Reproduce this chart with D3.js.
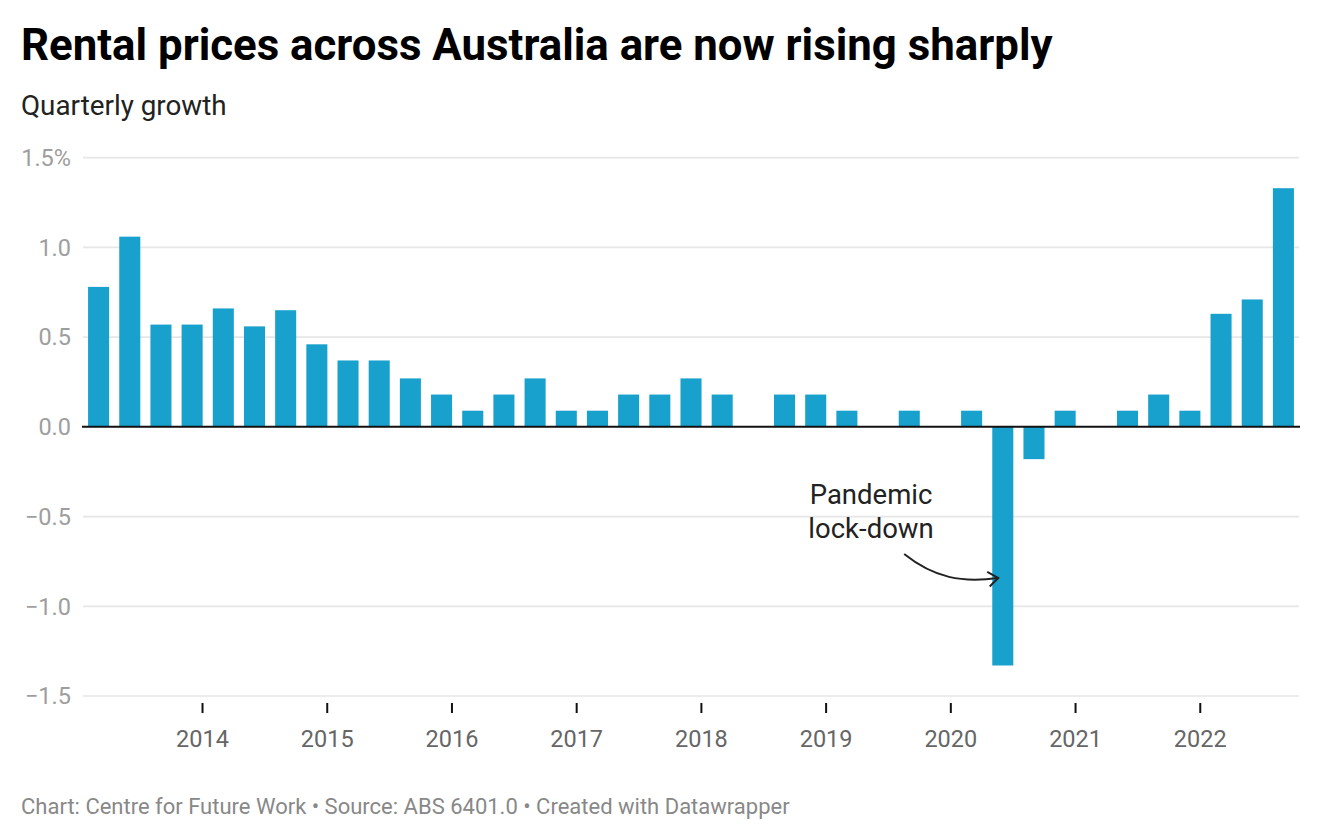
<!DOCTYPE html>
<html>
<head>
<meta charset="utf-8">
<script src="https://cdn.jsdelivr.net/npm/d3@7"></script>
<style>
  html, body { margin: 0; padding: 0; background: #fff; }
  svg { display: block; font-family: Roboto, "Noto Sans", sans-serif; }
</style>
</head>
<body>
<svg id="chart" width="1320" height="840"></svg>
<script>
// ---- Data ----
const quarters = [
  "2013-Q1","2013-Q2","2013-Q3","2013-Q4",
  "2014-Q1","2014-Q2","2014-Q3","2014-Q4",
  "2015-Q1","2015-Q2","2015-Q3","2015-Q4",
  "2016-Q1","2016-Q2","2016-Q3","2016-Q4",
  "2017-Q1","2017-Q2","2017-Q3","2017-Q4",
  "2018-Q1","2018-Q2","2018-Q3","2018-Q4",
  "2019-Q1","2019-Q2","2019-Q3","2019-Q4",
  "2020-Q1","2020-Q2","2020-Q3","2020-Q4",
  "2021-Q1","2021-Q2","2021-Q3","2021-Q4",
  "2022-Q1","2022-Q2","2022-Q3"
];
const growth = [
  0.78, 1.06, 0.57, 0.57,
  0.66, 0.56, 0.65, 0.46,
  0.37, 0.37, 0.27, 0.18,
  0.09, 0.18, 0.27, 0.09,
  0.09, 0.18, 0.18, 0.27,
  0.18, 0.00, 0.18, 0.18,
  0.09, 0.00, 0.09, 0.00,
  0.09, -1.33, -0.18, 0.09,
  0.00, 0.09, 0.18, 0.09,
  0.63, 0.71, 1.33
];
const yTicks = [-1.5, -1.0, -0.5, 0, 0.5, 1.0, 1.5];
const yTickLabels = ["\u22121.5", "\u22121.0", "\u22120.5", "0.0", "0.5", "1.0", "1.5%"];
const xTickYears = [2014, 2015, 2016, 2017, 2018, 2019, 2020, 2021, 2022];

const titleText = "Rental prices across Australia are now rising sharply";
const subtitleText = "Quarterly growth";
const footerText = "Chart: Centre for Future Work \u2022 Source: ABS 6401.0 \u2022 Created with Datawrapper";
const annotationLines = ["Pandemic", "lock-down"];

// ---- Helpers ----
// quarter date placed at the first day of the quarter's last month (Datawrapper-style)
function qToYear(q) {
  const [y, qq] = q.split("-Q").map(Number);
  return y + (3 * qq - 1) / 12;
}
const data = quarters.map((q, i) => ({ q, t: qToYear(q), v: growth[i] }));

// ---- Layout ----
const svg = d3.select("#chart");
const plot = { left: 83, right: 1299, top: 157.7, bottom: 696 };

const tFirst = d3.min(data, d => d.t), tLast = d3.max(data, d => d.t);
const pad = 0.125;
const x = d3.scaleLinear().domain([tFirst - pad, tLast + pad]).range([plot.left, plot.right]);
const y = d3.scaleLinear().domain([-1.5, 1.5]).range([plot.bottom, plot.top]);
const step = x(0.25) - x(0);
const barW = step * 0.675;

// Title / subtitle
svg.append("text").attr("x", 21).attr("y", 60)
  .attr("font-size", 43.8).attr("font-weight", 700).attr("fill", "#000")
  .text(titleText);
svg.append("text").attr("x", 21).attr("y", 115)
  .attr("font-size", 27.8).attr("fill", "#222")
  .text(subtitleText);

// Gridlines + y labels
const gy = svg.append("g");
yTicks.forEach((t, i) => {
  if (t !== 0) {
    gy.append("line")
      .attr("x1", plot.left).attr("x2", plot.right)
      .attr("y1", y(t)).attr("y2", y(t))
      .attr("stroke", "#e6e6e6").attr("stroke-width", 1.7);
  }
  gy.append("text")
    .attr("x", 71).attr("y", y(t)).attr("dy", "0.35em")
    .attr("text-anchor", "end")
    .attr("font-size", 23.5).attr("fill", "#9e9e9e")
    .text(yTickLabels[i]);
});

// Bars
svg.append("g").selectAll("rect").data(data.filter(d => d.v !== 0)).join("rect")
  .attr("x", d => x(d.t) - barW / 2)
  .attr("width", barW)
  .attr("y", d => y(Math.max(0, d.v)))
  .attr("height", d => Math.abs(y(d.v) - y(0)))
  .attr("fill", "#18a1cd");

// Zero baseline
svg.append("line")
  .attr("x1", plot.left - 1).attr("x2", plot.right + 1)
  .attr("y1", y(0)).attr("y2", y(0))
  .attr("stroke", "#111").attr("stroke-width", 2);

// X axis ticks + labels
const gx = svg.append("g");
xTickYears.forEach(yr => {
  gx.append("line")
    .attr("x1", x(yr)).attr("x2", x(yr))
    .attr("y1", plot.bottom + 7).attr("y2", plot.bottom + 17)
    .attr("stroke", "#111").attr("stroke-width", 2);
  gx.append("text")
    .attr("x", x(yr)).attr("y", 747)
    .attr("text-anchor", "middle")
    .attr("font-size", 23.5).attr("fill", "#666")
    .text(String(yr));
});

// Annotation
const ann = { t: 2019.36, v: -0.43 };
const annG = svg.append("g");
annotationLines.forEach((line, i) => {
  annG.append("text")
    .attr("x", x(ann.t)).attr("y", y(ann.v) + i * 34)
    .attr("text-anchor", "middle")
    .attr("font-size", 27.5).attr("fill", "#222")
    .text(line);
});
const p0 = [x(2019.626), y(-0.709)];
const p3 = [x(2020.38), y(-0.842)];
const c1 = [p0[0] + 30, p0[1] + 24];
const c2 = [p3[0] - 36, p3[1] + 5];
annG.append("path")
  .attr("d", `M${p0[0]},${p0[1]} C${c1[0]},${c1[1]} ${c2[0]},${c2[1]} ${p3[0]},${p3[1]}`)
  .attr("fill", "none").attr("stroke", "#222").attr("stroke-width", 2);
annG.append("path")
  .attr("d", `M${p3[0] - 11},${p3[1] - 6} L${p3[0]},${p3[1]} L${p3[0] - 8.5},${p3[1] + 8.5}`)
  .attr("fill", "none").attr("stroke", "#222").attr("stroke-width", 2)
  .attr("stroke-linejoin", "miter");

// Footer
svg.append("text").attr("x", 21).attr("y", 814)
  .attr("font-size", 22).attr("fill", "#888")
  .text(footerText);
</script>
</body>
</html>
